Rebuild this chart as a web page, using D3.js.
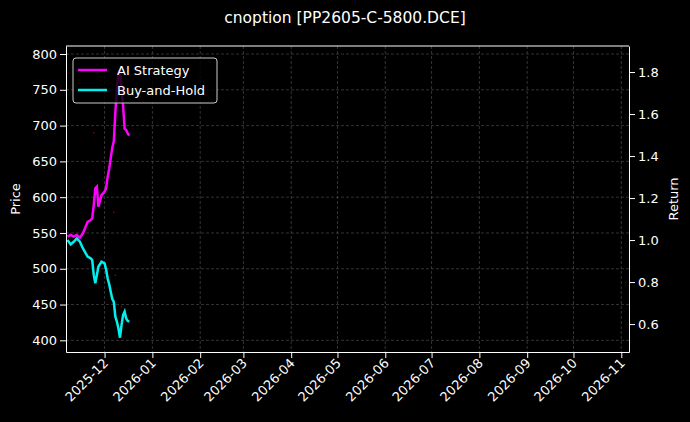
<!DOCTYPE html><html><head><script src="https://cdn.jsdelivr.net/npm/d3@7"></script>
<style>body{margin:0;background:#000}svg{font-family:"DejaVu Sans",sans-serif}</style></head><body><svg width="690" height="422"></svg><script>
const dates=["2025-11-07","2025-11-09","2025-11-11","2025-11-13","2025-11-15","2025-11-17","2025-11-20","2025-11-22","2025-11-23","2025-11-24","2025-11-25","2025-11-26","2025-11-27","2025-11-29","2025-12-01","2025-12-02","2025-12-03","2025-12-04","2025-12-05","2025-12-06","2025-12-07","2025-12-08","2025-12-09","2025-12-10","2025-12-11","2025-12-12","2025-12-13","2025-12-14","2025-12-15","2025-12-16","2025-12-17"];
const aiReturn=[1.016,1.024,1.016,1.024,1.011,1.032,1.087,1.095,1.103,1.167,1.246,1.254,1.159,1.214,1.230,1.246,1.30,1.34,1.39,1.44,1.47,1.61,1.72,1.80,1.81,1.72,1.64,1.53,1.524,1.508,1.497];
const bhReturn=[1.0,0.979,0.992,1.008,0.992,0.96,0.921,0.913,0.905,0.833,0.794,0.833,0.873,0.897,0.889,0.86,0.817,0.79,0.754,0.72,0.706,0.635,0.611,0.579,0.535,0.595,0.643,0.659,0.627,0.615,0.611];
const priceDates=["2025-11-24","2025-12-07","2025-12-08","2025-12-12"];
const priceVals=[690,579,491,447];
const monthTicks=["2025-12","2026-01","2026-02","2026-03","2026-04","2026-05","2026-06","2026-07","2026-08","2026-09","2026-10","2026-11"];
const priceTicks=[400,450,500,550,600,650,700,750,800];
const returnTicks=[0.6,0.8,1.0,1.2,1.4,1.6,1.8];
const P=d3.timeParse("%Y-%m-%d"),M=d3.timeParse("%Y-%m");
const svg=d3.select("svg");
const L=66,R=629,T=46,B=352;
const x=d3.scaleTime().domain([P("2025-11-06"),P("2026-11-06")]).range([L,R]);
const yL=d3.scaleLinear().domain([383.7,811.2]).range([B,T]);
const yR=d3.scaleLinear().domain([0.467,1.924]).range([B,T]);
svg.append("rect").attr("width",690).attr("height",422).attr("fill","#000");
const g=svg.append("g");
monthTicks.forEach(m=>g.append("line").attr("x1",x(M(m))).attr("x2",x(M(m))).attr("y1",T).attr("y2",B).attr("stroke","#555").attr("stroke-width",0.6).attr("stroke-dasharray","3,2"));
priceTicks.forEach(v=>g.append("line").attr("x1",L).attr("x2",R).attr("y1",yL(v)).attr("y2",yL(v)).attr("stroke","#555").attr("stroke-width",0.6).attr("stroke-dasharray","3,2"));
const st=s=>{s.selectAll("path.domain").attr("stroke","#fff");s.selectAll("line").attr("stroke","#fff");s.selectAll("text").attr("fill","#fff").style("font-size","13px").style("font-family","DejaVu Sans");};
const xa=svg.append("g").attr("transform",`translate(0,${B})`).call(d3.axisBottom(x).tickValues(monthTicks.map(M)).tickFormat(d3.timeFormat("%Y-%m")).tickSizeOuter(0)).call(st);
xa.selectAll("text").attr("y",0).attr("dy",0).attr("transform","translate(4,12) rotate(-45)").style("text-anchor","end");
svg.append("g").attr("transform",`translate(${L},0)`).call(d3.axisLeft(yL).tickValues(priceTicks).tickSizeOuter(0)).call(st);
svg.append("g").attr("transform",`translate(${R},0)`).call(d3.axisRight(yR).tickValues(returnTicks).tickFormat(d3.format(".1f")).tickSizeOuter(0)).call(st);
svg.append("line").attr("x1",L).attr("x2",R).attr("y1",T).attr("y2",T).attr("stroke","#fff");
svg.append("text").attr("x",345).attr("y",23).attr("text-anchor","middle").attr("fill","#fff").style("font-size","15.5px").text("cnoption [PP2605-C-5800.DCE]");
svg.append("text").attr("transform",`translate(20,${(T+B)/2}) rotate(-90)`).attr("text-anchor","middle").attr("fill","#fff").style("font-size","13px").text("Price");
svg.append("text").attr("transform",`translate(678,${(T+B)/2}) rotate(-90)`).attr("text-anchor","middle").attr("fill","#fff").style("font-size","13px").text("Return");
svg.selectAll("circle.p").data(priceVals).join("circle").attr("cx",(d,i)=>x(P(priceDates[i]))).attr("cy",d=>yL(d)).attr("r",0.8).attr("fill","#a00");
const line=(arr)=>d3.line().x((d,i)=>x(P(dates[i]))).y(d=>yR(d))(arr);
svg.append("path").attr("d",line(bhReturn)).attr("fill","none").attr("stroke","#00f0f0").attr("stroke-width",2.5);
svg.append("path").attr("d",line(aiReturn)).attr("fill","none").attr("stroke","#f0f").attr("stroke-width",2.5);
const lg=svg.append("g");
lg.append("rect").attr("x",73).attr("y",58).attr("width",144).attr("height",45).attr("rx",3).attr("fill","#000").attr("fill-opacity",0.8).attr("stroke","#ccc");
[["AI Strategy","#f0f",70],["Buy-and-Hold","#00f0f0",90]].forEach(([t,c,y])=>{lg.append("line").attr("x1",78).attr("x2",107).attr("y1",y).attr("y2",y).attr("stroke",c).attr("stroke-width",2.5);lg.append("text").attr("x",117).attr("y",y+4.5).attr("fill","#fff").style("font-size","13px").text(t);});
</script></body></html>
